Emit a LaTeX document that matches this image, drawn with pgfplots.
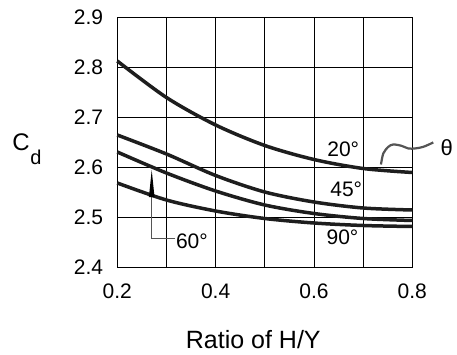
\documentclass[border=0pt]{standalone}
\usepackage{fontspec}
\setmainfont{Liberation Sans}
\usepackage{pgfplots}
\pgfplotsset{compat=1.18}

\pgfplotstableread{
x    y
0.2  2.812
0.3  2.739
0.4  2.684
0.5  2.643
0.6  2.615
0.7  2.597
0.8  2.589
}\tabA
\pgfplotstableread{
x    y
0.2  2.664
0.3  2.626
0.4  2.583
0.5  2.550
0.6  2.530
0.7  2.518
0.8  2.514
}\tabB
\pgfplotstableread{
x    y
0.2  2.630
0.3  2.588
0.4  2.552
0.5  2.524
0.6  2.507
0.7  2.497
0.8  2.493
}\tabC
\pgfplotstableread{
x    y
0.2  2.568
0.3  2.534
0.4  2.512
0.5  2.497
0.6  2.488
0.7  2.483
0.8  2.481
}\tabD

\definecolor{curve}{HTML}{1E1E1E}
\definecolor{lead}{HTML}{555555}

\begin{document}
\begin{tikzpicture}
\useasboundingbox (-117.3bp,-87.3bp) rectangle (339.7bp,267bp);
\begin{axis}[
  scale only axis,
  width=295bp, height=250bp,
  xmin=0.2, xmax=0.8, ymin=2.4, ymax=2.9,
  xtick={0.2,0.4,0.6,0.8},
  minor xtick={0.3,0.5,0.7},
  ytick={2.4,2.5,2.6,2.7,2.8,2.9},
  grid=both,
  major grid style={black, line width=0.9bp},
  minor grid style={black, line width=0.9bp},
  axis line style={black, line width=1bp},
  major tick length=0pt, minor tick length=0pt,
  /pgf/number format/assume math mode=true,
  /pgf/number format/fixed, /pgf/number format/precision=1,
  /pgf/number format/fixed zerofill,
  xticklabel style={font=\fontsize{21bp}{24bp}\selectfont, inner sep=0pt, anchor=north, yshift=-16.5bp},
  yticklabel style={font=\fontsize{21bp}{24bp}\selectfont, inner sep=0pt, anchor=east, xshift=-14bp},
  xlabel={Ratio of H/Y},
  xlabel style={font=\fontsize{25bp}{28bp}\selectfont, at={(rel axis cs:0.461,0)}, anchor=base, inner sep=0pt, yshift=-81.6bp},
  clip=false,
]
\addplot[curve, line width=3.5bp, smooth] table[x=x,y=y] {\tabA};
\addplot[curve, line width=3.5bp, smooth] table[x=x,y=y] {\tabB};
\addplot[curve, line width=3.5bp, smooth] table[x=x,y=y] {\tabC};
\addplot[curve, line width=3.5bp, smooth] table[x=x,y=y] {\tabD};

\node[font=\fontsize{21bp}{24bp}\selectfont, inner sep=0pt] at (axis cs:0.6596,2.6357) {20°};
\node[font=\fontsize{21bp}{24bp}\selectfont, inner sep=0pt] at (axis cs:0.6657,2.5556) {45°};
\node[font=\fontsize{21bp}{24bp}\selectfont, inner sep=0pt] at (axis cs:0.658,2.4585) {90°};
\node[font=\fontsize{21bp}{24bp}\selectfont, inner sep=0pt, anchor=west] at (axis cs:0.319,2.4519) {60°};
\node[font=\fontsize{22bp}{24bp}\selectfont, inner sep=0pt] at (axis cs:0.8699,2.6397) {θ};

\draw[lead, line width=1.1bp] (axis cs:0.318,2.457) -- (axis cs:0.270,2.457) -- (axis cs:0.270,2.560);
\fill[black] (axis cs:0.270,2.594) -- ([xshift=-2.8bp]axis cs:0.270,2.540) -- ([xshift=2.8bp]axis cs:0.270,2.540) -- cycle;

\draw[lead, line width=2.2bp, smooth] plot coordinates {
  (axis cs:0.7363,2.6050) (axis cs:0.7410,2.6271) (axis cs:0.7512,2.6403)
  (axis cs:0.7613,2.6451) (axis cs:0.7784,2.6423) (axis cs:0.7918,2.6371)
  (axis cs:0.8055,2.6371) (axis cs:0.8223,2.6403) (axis cs:0.8427,2.6491)};

\node[font=\fontsize{24bp}{26bp}\selectfont, inner sep=0pt] at (axis cs:0.0042,2.6497) {C};
\node[font=\fontsize{20bp}{22bp}\selectfont, inner sep=0pt] at (axis cs:0.0347,2.6197) {d};
\end{axis}
\end{tikzpicture}
\end{document}
